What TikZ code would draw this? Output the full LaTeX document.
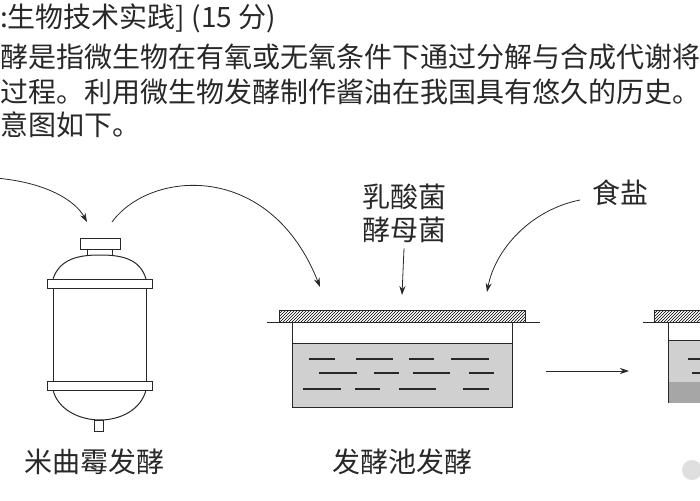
\documentclass[tikz,border=0pt]{standalone}
\usepackage{fontspec}
\setmainfont{Noto Sans CJK SC}
\usetikzlibrary{arrows.meta,patterns,positioning}
\definecolor{liquid}{RGB}{208,208,208}
\definecolor{inkgray}{RGB}{40,40,40}
\tikzset{
  para/.style={anchor=west, inner sep=0pt, font=\fontsize{28}{28}\selectfont, text=inkgray},
  label/.style={inner sep=0pt, font=\fontsize{28}{28}\selectfont, text=inkgray},
  feed/.style={-{Stealth[length=9pt,width=6pt]}, line width=0.8pt, inkgray},
  part/.style={draw=inkgray, line width=1pt}
}
\begin{document}
\begin{tikzpicture}[x=1pt,y=-1pt]
	\useasboundingbox (0,0) rectangle (700,500);
	\clip (0,0) rectangle (700,500);
	\fill[white] (0,0) rectangle (700,500);

	% text above the figure
	\node[para] (line1) at (0,18) {:生物技术实践] (15 分)};
	\node[para] (line2) at (0,57) {酵是指微生物在有氧或无氧条件下通过分解与合成代谢将};
	\node[para] (line3) at (0,92) {过程。利用微生物发酵制作酱油在我国具有悠久的历史。其};
	\node[para] (line4) at (0,125) {意图如下。};

	% fermenter
	\draw[part] (80,238) rectangle (120,249);
	\draw[part] (87,249) -- (87,255) (112,249) -- (112,255);
	\draw[part] (53,279) .. controls (60,258) and (80,255) .. (100,255) .. controls (120,255) and (140,258) .. (146,279);
	\draw[part] (47,279) rectangle (152,288);
	\draw[part] (53,288) rectangle (146,381);
	\draw[part] (47,381) rectangle (152,390);
	\draw[part] (53,390) .. controls (58,410) and (80,420) .. (100,420) .. controls (120,420) and (141,410) .. (146,390);
	\draw[part] (94,420) rectangle (103,431);
	\coordinate (TankIn) at (87,222);
	\coordinate (TankOut) at (112,222);
	\coordinate (FeedStart) at (-5,178);
	\node[label] (TankLabel) at (94,462) {米曲霉发酵};

	% fermentation pool
	\fill[liquid] (292,343) rectangle (512,407);
	\draw[part] (292,343) -- (512,343);
	\draw[part] (292,322) -- (292,407) -- (512,407) -- (512,322);
	\draw[part] (267,322) -- (540,322);
	\draw[part, pattern=north east lines] (279,310) rectangle (525,322);
	\foreach \ya/\xa/\xb in {359/309/335, 359/356/393, 359/409/434, 359/451/489,
	                        373/319/357, 373/374/399, 373/413/450, 373/469/494,
	                        389/303/341, 389/355/380, 389/399/436, 389/463/489}
		\draw[part, line width=1.3pt] (\xa,\ya) -- (\xb,\ya);
	\coordinate (PoolLeft) at (320,287);
	\coordinate (PoolTop) at (402,295);
	\coordinate (PoolRight) at (487,292);
	\node[label] (PoolLabel) at (402,462) {发酵池发酵};

	\node[label] (Bacteria) at (404,197) {乳酸菌};
	\node[label, below=7pt of Bacteria] (Yeast) {酵母菌};
	\node[label] (Salt) at (620,193) {食盐};

	% next pool, cut off at the right edge
	\fill[liquid] (668,340) rectangle (710,382);
	\fill[gray!70] (668,382) rectangle (710,403);
	\draw[part] (668,340) -- (710,340);
	\draw[part] (668,322) -- (668,403);
	\draw[part] (643,322) -- (710,322);
	\draw[part, pattern=north east lines] (654,310) rectangle (710,322);
	\draw[part, line width=1.3pt] (688,359) -- (710,359) (692,373) -- (710,373);
	\fill[gray!25] (692,470) circle (10);
	\coordinate (NextLeft) at (629,371);
	\coordinate (PoolExit) at (546,371);

	% feeds
	\draw[feed] (FeedStart) .. controls (45,182) and (75,200) .. (TankIn);
	\draw[feed] (TankOut) .. controls (150,170) and (270,160) .. (PoolLeft);
	\draw[feed] ([yshift=-5pt]Yeast.south) -- (PoolTop);
	\draw[feed] (580,200) .. controls (530,210) and (495,250) .. (PoolRight);
	\draw[feed] (PoolExit) -- (NextLeft);
\end{tikzpicture}
\end{document}
